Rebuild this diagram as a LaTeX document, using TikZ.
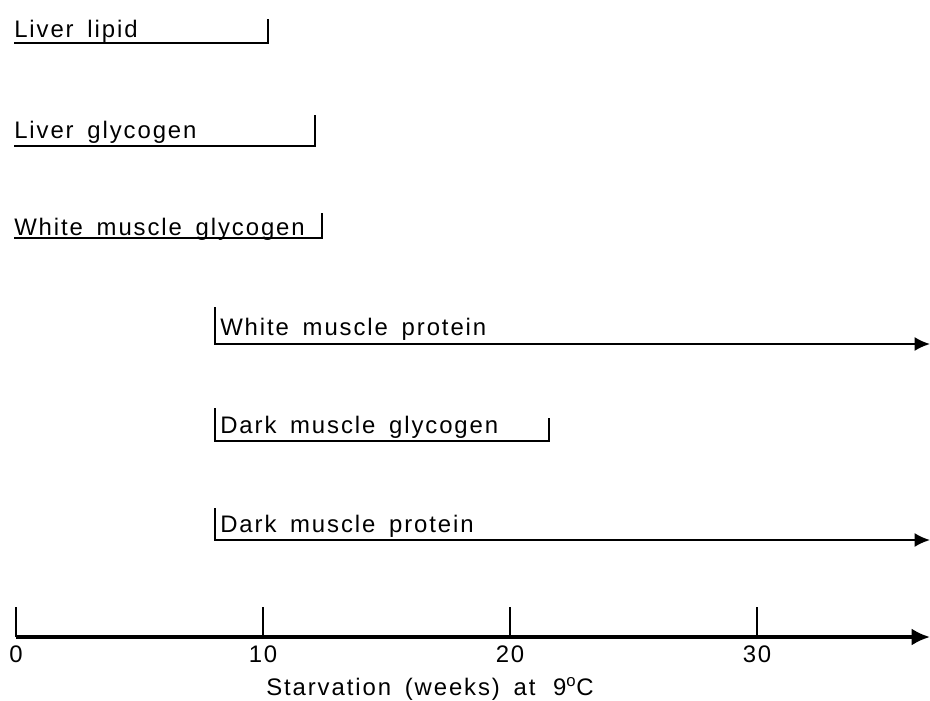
\documentclass[tikz,border=0pt]{standalone}
\usepackage{fontspec}
\newfontfamily\labfont{Liberation Sans}[LetterSpace=8, WordSpace=1.6]
\usetikzlibrary{arrows.meta, positioning}

\begin{document}
\begin{tikzpicture}[x=0.025cm, y=-0.025cm,
  bar/.style={line width=1.4pt},
  lbl/.style={anchor=base west, inner sep=0pt, font=\labfont\fontsize{17}{19}\selectfont},
  num/.style={inner sep=0pt, font=\labfont\fontsize{17}{19}\selectfont},
  tip/.style={-{Latex[length=11pt,width=10pt]}}]

\useasboundingbox (0,0) rectangle (930,700);

% liver lipid
\node[lbl] (lip) at (14,37) {Liver lipid};
\coordinate (lipA) at (14,43);
\coordinate (lipB) at (268,43);
\draw[bar] (lipA) -- (lipB) -- ++(0,-24);

% liver glycogen
\node[lbl] (lgly) at (14,138) {Liver glycogen};
\coordinate (lglyA) at (14,146);
\coordinate (lglyB) at (315,146);
\draw[bar] (lglyA) -- (lglyB) -- ++(0,-31);

% white muscle glycogen
\node[lbl] (wgly) at (14,235) {White muscle glycogen};
\coordinate (wglyA) at (14,238);
\coordinate (wglyB) at (322,238);
\draw[bar] (wglyA) -- (wglyB) -- ++(0,-25);

% white muscle protein
\node[lbl] (wpro) at (220,335) {White muscle protein};
\coordinate (wproA) at (215,307);
\coordinate (wproB) at (930,344);
\draw[bar,tip] (wproA) |- (wproB);

% dark muscle glycogen
\node[lbl] (dgly) at (220,433) {Dark muscle glycogen};
\coordinate (dglyA) at (215,408);
\coordinate (dglyB) at (549,441);
\draw[bar] (dglyA) |- (dglyB) -- ++(0,-23);

% dark muscle protein
\node[lbl] (dpro) at (220,532) {Dark muscle protein};
\coordinate (dproA) at (215,508);
\coordinate (dproB) at (930,540);
\draw[bar,tip] (dproA) |- (dproB);

% time axis
\coordinate (orig) at (16,637);
\coordinate (xend) at (930,637);
\draw[line width=2.2pt,-{Latex[length=13pt,width=12pt]}] (orig) -- (xend);
\foreach \w in {0,10,20,30} {
  \coordinate (k\w) at ({16+24.7*\w},637);
  \draw[line width=1pt] (k\w) -- ++(0,-30);
  \node[num, below=6pt of k\w] (n\w) {\w};
}
\node[num] (xlab) at (430,689) {Starvation (weeks) at\, 9\textsuperscript{o}C};

\end{tikzpicture}
\end{document}
